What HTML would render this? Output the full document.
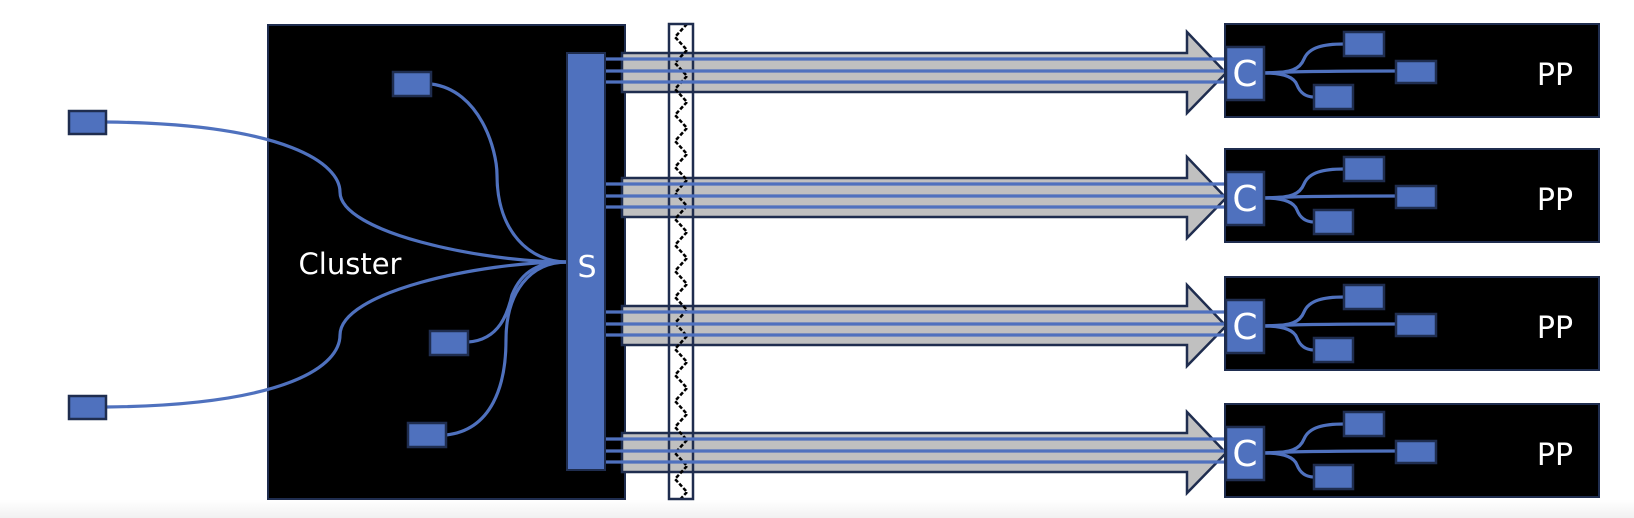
<!DOCTYPE html>
<html><head><meta charset="utf-8">
<style>
html,body{margin:0;padding:0;background:#fff;width:1634px;height:518px;overflow:hidden}
svg{display:block}
text{font-family:"DejaVu Sans","Liberation Sans",sans-serif;fill:#fff}
</style></head>
<body>
<svg id="d" width="1634" height="518" viewBox="0 0 1634 518">
<defs>
<linearGradient id="bg" x1="0" y1="0" x2="0" y2="1"><stop offset="0" stop-color="#fff"/><stop offset="1" stop-color="#f1f1f1"/></linearGradient>
<pattern id="zig" width="24" height="26" patternUnits="userSpaceOnUse" x="669" y="24">
<path d="M18,0 L6,13 L18,26" fill="none" stroke="#000" stroke-width="2.5" stroke-dasharray="4,2"/>
</pattern>
</defs>
<rect x="0" y="500" width="1634" height="18" fill="url(#bg)"/>
<rect x="268" y="25" width="357" height="474" fill="#000" stroke="#1f2d4f" stroke-width="2"/>
<text x="350" y="274" font-size="29" text-anchor="middle">Cluster</text>
<g fill="none" stroke="#4f71be" stroke-width="3.2">
<path d="M106,122 C290,124 340,165 340,192 C340,232 480,262 567,262"/>
<path d="M106,407 C290,405 340,365 340,335 C340,292 480,262 567,262"/>
<path d="M431,84 C480,90 497,150 497,175 C497,232 530,262 567,262"/>
<path d="M468,342 C500,340 508,312 512,295 C522,270 540,262 567,262"/>
<path d="M446,435 C492,430 506,385 506,340 C506,292 530,262 567,262"/>
</g>
<g fill="#4f71be" stroke="#1f2d4f" stroke-width="2.5">
<rect x="69" y="111" width="37" height="23"/>
<rect x="69" y="396" width="37" height="23"/>
<rect x="393" y="72" width="38" height="24"/>
<rect x="430" y="331" width="38" height="24"/>
<rect x="408" y="423" width="38" height="24"/>
</g>
<g id="arrows"></g>
<rect x="669" y="24" width="24" height="475" fill="url(#zig)" stroke="#1f2d4f" stroke-width="2.5"/>
<g id="lines"></g>
<rect x="567" y="53" width="38" height="417" fill="#4f71be" stroke="#1f2d4f" stroke-width="2"/>
<text x="587" y="277" font-size="30" text-anchor="middle">S</text>
<g id="pps"></g>
</svg>
<script>
const rowCenters=[73,198,326,453];
const rowLabels=["PP","PP","PP","PP"];
const NS="http://www.w3.org/2000/svg";
function mk(tag,attrs,parent){const e=document.createElementNS(NS,tag);for(const k in attrs)e.setAttribute(k,attrs[k]);parent.appendChild(e);return e;}
const A=document.getElementById('arrows'),L=document.getElementById('lines'),P=document.getElementById('pps');
rowCenters.forEach((cy,i)=>{
  const a=mk('path',{d:`M622,${cy-20} L1187,${cy-20} L1187,${cy-41} L1226,${cy} L1187,${cy+40} L1187,${cy+19} L622,${cy+19} Z`,fill:'#c0c0c0',stroke:'#1f2d4f','stroke-width':2.5,'stroke-linejoin':'miter'},A);
  
  
  [-14,-2,9].forEach((o,j)=>{
    const l=mk('line',{x1:605,y1:cy+o,x2:1228,y2:cy+o,stroke:'#4f71be','stroke-width':3.2},L);
    
    
  });
  const g=mk('g',{},P);
  
  
  const b=mk('rect',{x:1225,y:cy-49,width:374,height:93,fill:'#000',stroke:'#1f2d4f','stroke-width':2},g);
  
  
  const p=mk('g',{fill:'none',stroke:'#4f71be','stroke-width':3.2},g);
  
  
  mk('path',{d:`M1264,${cy} C1292,${cy} 1300,${cy-4} 1304,${cy-14} C1309,${cy-26} 1324,${cy-29} 1344,${cy-29}`},p);
  mk('path',{d:`M1264,${cy} C1300,${cy-2} 1350,${cy-2} 1396,${cy-2}`},p);
  mk('path',{d:`M1264,${cy} C1284,${cy} 1294,${cy+4} 1297,${cy+12} C1301,${cy+22} 1308,${cy+24} 1314,${cy+24}`},p);
  const nodes=[[1344,cy-41,40,24],[1396,cy-12,40,22],[1314,cy+12,39,24]];
  nodes.forEach((n,k)=>{
    const r=mk('rect',{x:n[0],y:n[1],width:n[2],height:n[3],fill:'#4f71be',stroke:'#1f2d4f','stroke-width':2.5},g);
    
    
  });
  const c=mk('rect',{x:1226,y:cy-26,width:38,height:53,fill:'#4f71be',stroke:'#1f2d4f','stroke-width':2.5},g);
  
  
  const ct=mk('text',{x:1245,y:cy+13,'font-size':36,'text-anchor':'middle'},g);
  ct.textContent='C';
  
  
  const t=mk('text',{x:1555,y:cy+12,'font-size':30,'text-anchor':'middle'},g);
  t.textContent=rowLabels[i];
  
  
});
</script>
</body></html>
